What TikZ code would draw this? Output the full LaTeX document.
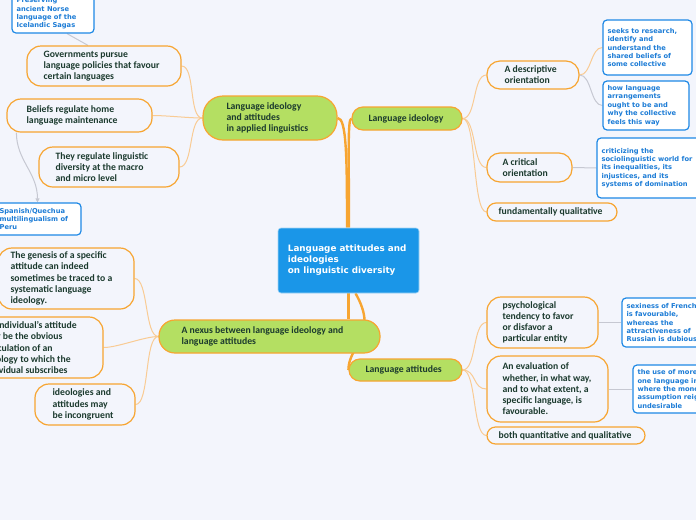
\documentclass[tikz,border=0pt]{standalone}
\usepackage{fontspec}
\setmainfont{Carlito}
\newfontfamily\vfont{DejaVu Sans}
\usetikzlibrary{arrows.meta}
\definecolor{bgc}{HTML}{F3F5FC}
\definecolor{orb}{HTML}{F7A531}
\definecolor{orl}{HTML}{F9CB94}
\definecolor{grn}{HTML}{B4DF62}
\definecolor{blu}{HTML}{1E88E5}
\definecolor{blt}{HTML}{1C7CD6}
\definecolor{ctrc}{HTML}{1A96E8}
\definecolor{dkt}{HTML}{1B3A2E}
\definecolor{gry}{HTML}{C6C8D2}
\pgfdeclarelayer{bg}
\pgfsetlayers{bg,main}
\tikzset{
 ob/.style={draw=orb, line width=1.2pt, fill=bgc, inner sep=0pt},
 ob-t/.style={text=dkt, font=\fontsize{9.7}{11.2}\selectfont\bfseries, align=left, inner sep=0pt},
 gb/.style={draw=orb, line width=1.2pt, fill=grn, inner sep=0pt},
 gb-t/.style={ob-t},
 bb/.style={draw=blu, line width=1.2pt, fill=white, inner sep=0pt},
 bb-t/.style={text=blt, font=\vfont\fontsize{6.7}{8.4}\selectfont\bfseries, align=left, inner sep=0pt},
 cb/.style={draw=white!60!ctrc, line width=0.6pt, fill=ctrc, inner sep=0pt},
 cb-t/.style={text=white, font=\vfont\fontsize{8.8}{11}\selectfont\bfseries, align=left, inner sep=0pt},
 mainlink/.style={draw=orb, line width=2.4pt},
 link/.style={draw=orl, line width=1pt},
 glink/.style={draw=gry, line width=1pt},
}
\newcommand\mmnode[9]{%
 \node[#1, rounded corners=#8, minimum width={#5-#3}, minimum height={#6-#4}] (#2) at ({(#3+#5)/2},{(#4+#6)/2}) {};
 \node[#1-t, anchor=west] (#2-t) at ([xshift=#7]#2.west) {#9};}
\begin{document}
\begin{tikzpicture}[x=1pt,y=-1pt]
\useasboundingbox (0,0) rectangle (696,520);
\begin{pgfonlayer}{bg}
\fill[bgc] (0,0) rectangle (696,520);
\end{pgfonlayer}

\mmnode{cb}{ctr}{278}{228}{419}{293}{10pt}{3pt}{Language attitudes and\\ideologies\\on linguistic diversity}
\mmnode{gb}{appl}{203}{96}{337}{140}{24pt}{20pt}{Language ideology\\and attitudes\\in applied linguistics}
\mmnode{gb}{lid}{352}{107}{462}{130}{17pt}{11pt}{Language ideology}
\mmnode{gb}{nexus}{159}{320}{380}{353}{23pt}{16pt}{A nexus between language ideology and\\language attitudes}
\mmnode{gb}{latt}{349}{359}{462}{381}{17pt}{11pt}{Language attitudes}

\mmnode{ob}{gov}{27}{46}{181}{86}{17pt}{14pt}{Governments pursue\\language policies that favour\\certain languages}
\mmnode{ob}{beliefs}{7}{99}{152}{132}{20pt}{14pt}{Beliefs regulate home\\language maintenance}
\mmnode{ob}{they}{39}{147}{179}{187}{17pt}{14pt}{They regulate linguistic\\diversity at the macro\\and micro level}
\mmnode{ob}{desc}{487}{61}{579}{89}{18pt}{13pt}{A descriptive\\orientation}
\mmnode{ob}{crit}{487}{153}{572}{182}{16pt}{13pt}{A critical\\orientation}
\mmnode{ob}{fund}{487}{203}{617}{221}{12pt}{9pt}{fundamentally qualitative}
\mmnode{ob}{psych}{487}{297}{598}{348}{16pt}{14pt}{psychological\\tendency to favor\\or disfavor a\\particular entity}
\mmnode{ob}{eval}{487}{356}{608}{422}{16pt}{14pt}{An evaluation of\\whether, in what way,\\and to what extent, a\\specific language, is\\favourable.}
\mmnode{ob}{both}{487}{427}{645}{444}{12pt}{8.5pt}{both quantitative and qualitative}
\mmnode{ob}{genesis}{-2}{248}{134}{309}{13pt}{14pt}{The genesis of a specific\\attitude can indeed\\sometimes be traced to a\\systematic language\\ideology.}
\mmnode{ob}{indiv}{-32}{317}{103}{378}{16pt}{14pt}{An individual’s attitude\\may be the obvious\\articulation of an\\ideology to which the\\individual subscribes}
\mmnode{ob}{incong}{35}{384}{135}{425}{18pt}{14pt}{ideologies and\\attitudes may\\be incongruent}

\mmnode{bb}{pres}{12}{-6}{94}{33}{5pt}{4pt}{Preserving\\ancient Norse\\language of the\\Icelandic Sagas}
\mmnode{bb}{spanish}{-6}{203}{81}{235}{6pt}{4pt}{Spanish/Quechua\\multilingualism of\\Peru}
\mmnode{bb}{seeks}{603}{20}{692}{75}{5pt}{4pt}{seeks to research,\\identify and\\understand the\\shared beliefs of\\some collective}
\mmnode{bb}{how}{603}{81}{689}{130}{5pt}{4pt}{how language\\arrangements\\ought to be and\\why the collective\\feels this way}
\mmnode{bb}{critb}{597}{138}{760}{198}{5pt}{4pt}{criticizing the\\sociolinguistic world for\\its inequalities, its\\injustices, and its\\systems of domination}
\mmnode{bb}{sex}{622}{298}{760}{347}{5pt}{4pt}{sexiness of French\\is favourable,\\whereas the\\attractiveness of\\Russian is dubious}
\mmnode{bb}{use}{633}{365}{760}{413}{5pt}{4pt}{the use of more than\\one language in settings\\where the monolingual\\assumption reigns is\\undesirable}

\begin{pgfonlayer}{bg}
\draw[mainlink] (appl.east) .. controls +(9,0) and +(0,-70) .. ([xshift=-1.5pt]ctr.north);
\draw[mainlink] (lid.west) .. controls +(-4,0) and +(0,-70) .. ([xshift=0.5pt]ctr.north);
\draw[mainlink] (ctr.south) -- (ctr.south |- nexus.north);
\draw[mainlink] ([xshift=7pt]ctr.south) .. controls +(24,42) and +(0,-25) .. (latt.west);
\foreach \c in {gov,beliefs,they} \draw[link] (appl.west) .. controls +(-14,0) and +(14,0) .. (\c.east);
\foreach \c in {desc,crit,fund} \draw[link] (lid.east) .. controls +(14,0) and +(-14,0) .. (\c.west);
\foreach \c in {psych,eval,both} \draw[link] (latt.east) .. controls +(14,0) and +(-14,0) .. (\c.west);
\foreach \c in {genesis,indiv,incong} \draw[link] (nexus.west) .. controls +(-14,0) and +(14,0) .. (\c.east);
\draw[link] (desc.east) .. controls +(12,0) and +(-12,0) .. (seeks.west);
\draw[glink] (desc.east) .. controls +(12,0) and +(-12,0) .. (how.west);
\draw[glink] (crit.east) -- (critb.west);
\draw[glink] (psych.east) -- (sex.west);
\draw[glink] (eval.east) -- (use.west);
\draw[glink] ([xshift=-16pt]gov.north) -- ([xshift=14pt]pres.south);
\draw[glink, -{Triangle[length=4pt,width=4pt]}] ([xshift=10pt]beliefs.south west) .. controls +(0,28) and +(0,-30) .. (spanish.north);
\end{pgfonlayer}
\end{tikzpicture}
\end{document}
